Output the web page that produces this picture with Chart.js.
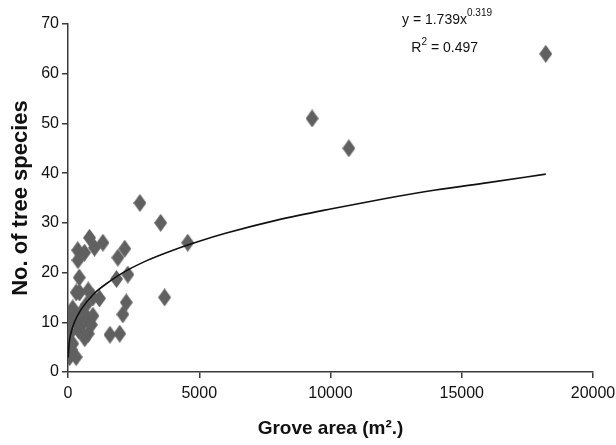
<!DOCTYPE html>
<html>
<head>
<meta charset="utf-8">
<script src="https://cdn.jsdelivr.net/npm/chart.js@4/dist/chart.umd.min.js"></script>
<style>
  html, body { margin: 0; padding: 0; background: #fff; }
  #wrap { width: 616px; height: 445px; }
</style>
</head>
<body>
<div id="wrap"><canvas id="chart"></canvas></div>
<script>
// Grove area (m2) vs number of tree species
const groveArea = [
    18200, 9300, 10700, 2740, 3530, 4560, 3680,
    820, 1330, 370, 630, 1010, 380, 2160, 1900,
    430, 1850, 2280, 440, 770, 950, 2220, 2090,
    1600, 1970, 60, 310, 30, 60, 180, 770, 770,
    600, 400, 180, 690, 20, 1200, 313, 950, 890,
    500, 250, 120, 640
];
const treeSpecies = [
    64, 51, 45, 34, 30, 26, 15,
    27, 26, 24.5, 24, 25, 22.5, 24.8, 23,
    19, 18.7, 19.6, 16, 16.4, 15, 14, 11.6,
    7.5, 7.7, 3, 3, 11, 7.7, 5.7, 10.7, 7.7,
    10, 8.4, 12.8, 13.5, 9.4, 14.8, 16, 11.3, 9.5,
    12, 10.5, 4.5, 6.8
];

// fitted curve y = 1.739x^0.319 as it appears in the figure
const trendX = [5, 50, 100, 250, 500, 1000, 1500, 2000, 3000, 4000, 5000, 6000, 8000, 10000, 12000, 14000, 16000, 18200];
const trendY = [2.9, 6.1, 7.6, 10.1, 12.6, 15.8, 17.9, 19.7, 22.4, 24.5, 26.3, 27.9, 30.6, 32.8, 34.8, 36.6, 38.1, 39.8];

const xTicks = [0, 5000, 10000, 15000, 20000];
const yTicks = [0, 10, 20, 30, 40, 50, 60, 70];

const sansFam = "'Liberation Sans', Arial, sans-serif";
const tickFont = { family: sansFam, size: 16 };
const axisColor = '#3a3a3a';

// tall diamond marker
function makeDiamond(w, h, color) {
    const c = document.createElement('canvas');
    c.width = w;
    c.height = h;
    const g = c.getContext('2d');
    g.fillStyle = color;
    g.beginPath();
    g.moveTo(w / 2, 0);
    g.lineTo(w, h / 2);
    g.lineTo(w / 2, h);
    g.lineTo(0, h / 2);
    g.closePath();
    g.fill();
    return c;
}
const diamond = makeDiamond(13, 18, '#606060');

// equation + R2 text in the top right
const equationPlugin = {
    id: 'equation',
    afterDraw(chart) {
        const ctx = chart.ctx;
        ctx.save();
        ctx.fillStyle = '#111';
        ctx.textBaseline = 'alphabetic';
        ctx.textAlign = 'left';

        ctx.font = '14px ' + sansFam;
        const main = 'y = 1.739x';
        const mw = ctx.measureText(main).width;
        ctx.font = '10px ' + sansFam;
        const sup = '0.319';
        const sw = ctx.measureText(sup).width;
        let x0 = 492 - mw - sw;
        ctx.font = '14px ' + sansFam;
        ctx.fillText(main, x0, 24);
        ctx.font = '10px ' + sansFam;
        ctx.fillText(sup, x0 + mw, 16);

        ctx.font = '14px ' + sansFam;
        const r1 = 'R', r2 = ' = 0.497';
        const w1 = ctx.measureText(r1).width, w3 = ctx.measureText(r2).width;
        ctx.font = '10px ' + sansFam;
        const w2 = ctx.measureText('2').width;
        x0 = 478 - w1 - w2 - w3;
        ctx.font = '14px ' + sansFam;
        ctx.fillText(r1, x0, 52);
        ctx.fillText(r2, x0 + w1 + w2, 52);
        ctx.font = '10px ' + sansFam;
        ctx.fillText('2', x0 + w1, 45);
        ctx.restore();
    }
};

new Chart(document.getElementById('chart'), {
    type: 'scatter',
    data: {
        datasets: [
            {
                type: 'line',
                label: 'Power fit',
                data: trendX.map((x, i) => ({ x: x, y: trendY[i] })),
                borderColor: '#111',
                borderWidth: 1.6,
                pointRadius: 0,
                fill: false,
                tension: 0.4,
                cubicInterpolationMode: 'monotone'
            },
            {
                label: 'Groves',
                data: groveArea.map((x, i) => ({ x: x, y: treeSpecies[i] })),
                pointStyle: diamond,
                pointRadius: 7,
                backgroundColor: '#606060',
                borderColor: '#606060'
            }
        ]
    },
    options: {
        responsive: true,
        maintainAspectRatio: false,
        animation: false,
        layout: { padding: { top: 24, right: 23, left: 0, bottom: 0 } },
        scales: {
            x: {
                type: 'linear',
                min: 0,
                max: 20000,
                afterFit: (s) => { s.height = 73; s.paddingLeft = 0; s.paddingRight = 0; },
                afterBuildTicks: (s) => { s.ticks = xTicks.map(v => ({ value: v })); },
                ticks: {
                    color: '#111',
                    font: tickFont,
                    padding: 6,
                    maxRotation: 0,
                    callback: (v) => String(v)
                },
                grid: { display: true, drawOnChartArea: false, drawTicks: true, tickLength: 6, color: axisColor, lineWidth: 1.5 },
                border: { display: true, color: axisColor, width: 1.5 },
                title: {
                    display: true,
                    text: 'Grove area (m\u00b2.)',
                    color: '#111',
                    font: { family: sansFam, size: 19, weight: 'bold' },
                    padding: { top: 0, bottom: 5 }
                }
            },
            y: {
                type: 'linear',
                min: 0,
                max: 70,
                afterFit: (s) => { s.width = 68; s.paddingTop = 0; s.paddingBottom = 0; },
                afterBuildTicks: (s) => { s.ticks = yTicks.map(v => ({ value: v })); },
                ticks: {
                    color: '#111',
                    font: tickFont,
                    padding: 3
                },
                grid: { display: true, drawOnChartArea: false, drawTicks: true, tickLength: 6, color: axisColor, lineWidth: 1.5 },
                border: { display: true, color: axisColor, width: 1.5 },
                title: {
                    display: true,
                    text: 'No. of tree species',
                    color: '#111',
                    font: { family: sansFam, size: 22, weight: 'bold' },
                    padding: { top: 8, bottom: 0 }
                }
            }
        },
        plugins: {
            legend: { display: false },
            tooltip: { enabled: false }
        }
    },
    plugins: [equationPlugin]
});
</script>
</body>
</html>
